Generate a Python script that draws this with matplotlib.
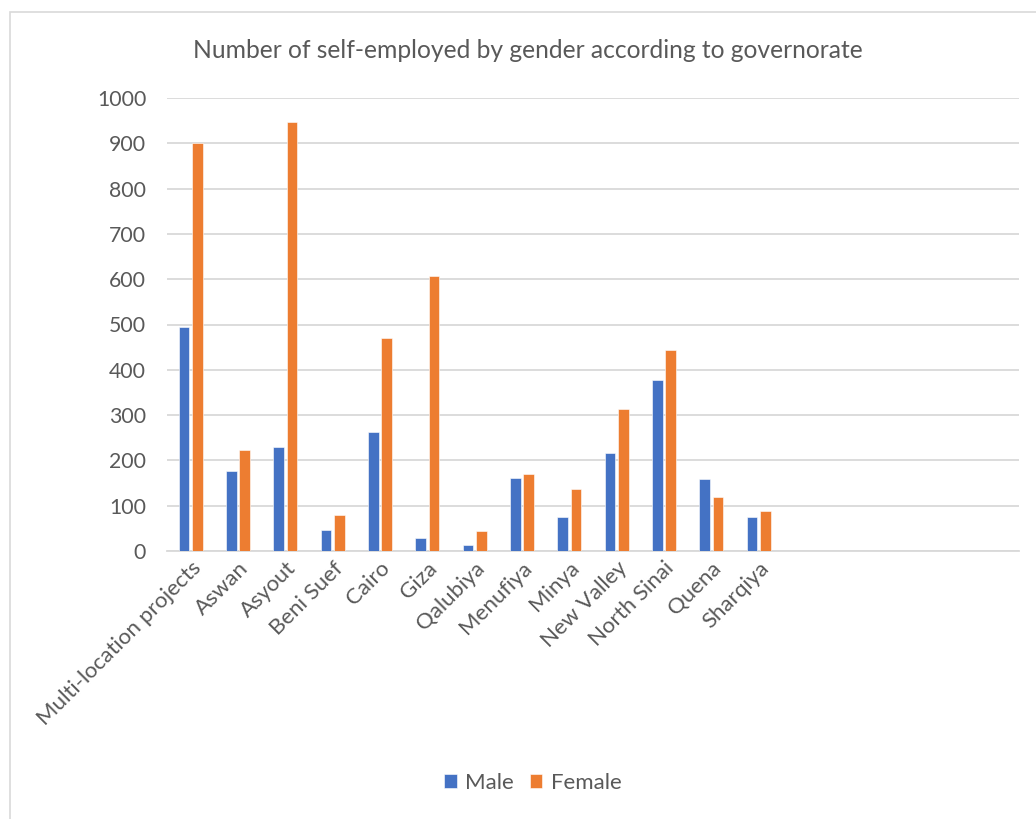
import matplotlib.pyplot as plt
from matplotlib.patches import Rectangle
import numpy as np

# data
categories = ["Multi-location projects", "Aswan", "Asyout", "Beni Suef", "Cairo", "Giza",
              "Qalubiya", "Menufiya", "Minya", "New Valley", "North Sinai", "Quena", "Sharqiya"]
male = [494, 176, 229, 46, 263, 29, 13, 162, 74, 217, 377, 160, 75]
female = [900, 224, 948, 79, 470, 607, 44, 170, 136, 313, 444, 119, 88]
n_slots = 18  # axis has empty category slots on the right
yticks = [0, 100, 200, 300, 400, 500, 600, 700, 800, 900, 1000]

plt.rcParams['font.family'] = ['Lato', 'DejaVu Sans']
txt = '#595959'

fig = plt.figure(figsize=(10.36, 8.19), dpi=100)
fig.patches.append(Rectangle((10 / 1036, -0.01), 1.02, 1 - 12 / 819 + 0.01,
                             transform=fig.transFigure, fill=False,
                             edgecolor='#d9d9d9', linewidth=1.2))

ax = fig.add_axes([167 / 1036, 1 - 551 / 819, 852 / 1036, 453 / 819])
x = np.arange(len(categories))
w = 0.226
ax.bar(x - 0.141, male, w, color='#4472C4', edgecolor='white', linewidth=0.4, label='Male', zorder=3)
ax.bar(x + 0.141, female, w, color='#ED7D31', edgecolor='white', linewidth=0.4, label='Female', zorder=3)

ax.set_xlim(-0.5, n_slots - 0.5)
ax.set_ylim(0, 1000)
ax.set_yticks(yticks)
ax.set_yticklabels([str(v) for v in yticks], fontsize=15.3, color=txt)
ax.set_xticks(x)
ax.set_xticklabels(categories, rotation=45, ha='right', va='top', rotation_mode='anchor',
                   fontsize=16, color=txt)
ax.tick_params(axis='both', length=0)
ax.tick_params(axis='y', pad=15)
ax.tick_params(axis='x', pad=5)
ax.grid(axis='y', color='#d9d9d9', linewidth=1.3, zorder=0)
for s in ['top', 'right', 'left']:
    ax.spines[s].set_visible(False)
ax.spines['bottom'].set_color('#d9d9d9')
ax.spines['bottom'].set_linewidth(1.3)

fig.text(528 / 1036, 1 - 50 / 819, "Number of self-employed by gender according to governorate",
         ha='center', va='center', fontsize=17.7, color=txt)

fig.legend(loc='center', bbox_to_anchor=(533 / 1036, 1 - 783 / 819), ncol=2, frameon=False,
           fontsize=16, handlelength=0.55, handleheight=0.55, handletextpad=0.4,
           columnspacing=0.7, labelcolor=txt)

fig.savefig('out.png', dpi=100)
